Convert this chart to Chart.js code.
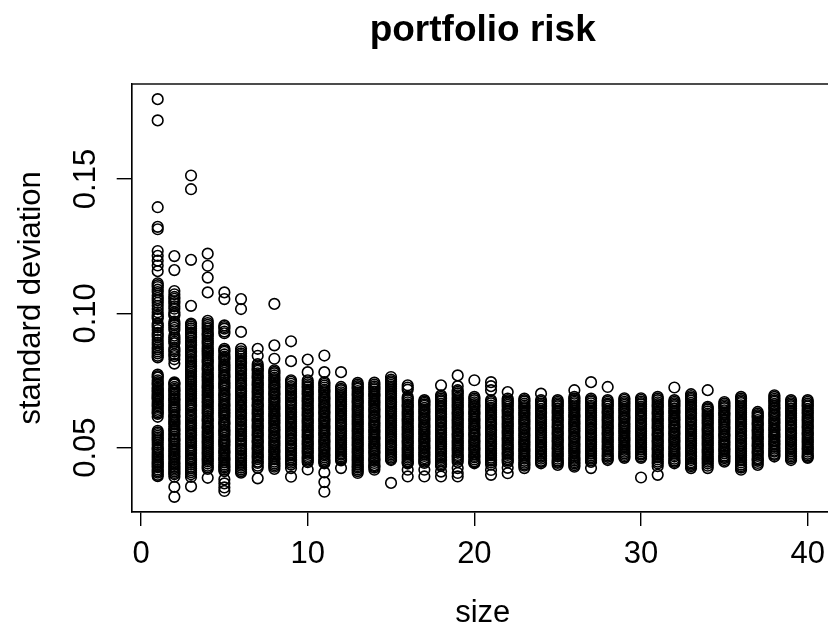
<!DOCTYPE html>
<html><head><meta charset="utf-8">
<script src="https://cdn.jsdelivr.net/npm/chart.js@4.4.1/dist/chart.umd.min.js"></script>
<style>html,body{margin:0;padding:0;background:#fff;overflow:hidden;width:828px;height:629px}canvas{display:block}</style>
</head><body>
<canvas id="c" width="860" height="629"></canvas>
<script>
// portfolio size (x) and standard deviations observed at each size (y)
const sizes = [1,2,3,4,5,6,7,8,9,10,11,12,13,14,15,16,17,18,19,20,21,22,23,24,25,26,27,28,29,30,31,32,33,34,35,36,37,38,39,40];
const sd01 = [0.1797,0.1718,0.1395,0.1322,0.1313,0.1232,0.1214,0.1196,0.1178,0.1157,0.1112,0.1098,0.1079,0.1066,0.1049,0.1028,0.1016,0.0994,0.0981,0.0962,0.0948,0.0927,0.0912,0.0901,0.0882,0.0866,0.0851,0.0836,0.0772,0.0761,0.0744,0.0733,0.0719,0.0709,0.0697,0.0688,0.0679,0.0664,0.0652,0.0637,0.0626,0.0615,0.0563,0.0551,0.0538,0.0527,0.0519,0.0502,0.0491,0.0476,0.0463,0.0449,0.0438,0.0427,0.0419,0.0407,0.0394,
  0.1105,0.1088,0.1057,0.1039,0.1004,0.0987,0.0955,0.0938,0.0919,0.0891,0.0873,0.0858,0.0842,0.0766,0.0751,0.0738,0.0724,0.0714,0.0703,0.0692,0.0684,0.0671,0.0658,0.0644,0.0631,0.0557,0.0544,0.0532,0.0511,0.0496,0.0483,0.0469,0.0456,0.0443,0.0432,0.0413,0.0399];
const sd02 = [0.1213,0.1161,0.1083,0.1071,0.1054,0.1038,0.1017,0.1004,0.0991,0.0969,0.0955,0.0938,0.0917,0.0903,0.0889,0.0871,0.0858,0.0841,0.0829,0.0813,0.0743,0.0735,0.0719,0.0711,0.0697,0.0684,0.0676,0.0661,0.0649,0.0638,0.0622,0.0613,0.0598,0.0587,0.0571,0.0562,0.0549,0.0534,0.0526,0.0511,0.0498,0.0486,0.0473,0.0462,0.0447,0.0436,0.0424,0.0412,0.0401,0.0392,0.0354,0.0317,
  0.1061,0.1045,0.1026,0.0997,0.0961,0.0946,0.0909,0.0895,0.0864,0.0848,0.0739,0.0726,0.0714,0.0703,0.0691,0.0679,0.0668,0.0655,0.0643,0.0631,0.0617,0.0604,0.0592,0.0579,0.0566,0.0553,0.0541,0.0529,0.0517,0.0504,0.0491,0.0479,0.0467,0.0455,0.0441,0.0429,0.0418,0.0406];
const sd03 = [0.1513,0.1462,0.1199,0.1028,0.0962,0.0951,0.0937,0.0922,0.0909,0.0891,0.0879,0.0864,0.0853,0.0838,0.0821,0.0807,0.0796,0.0783,0.0766,0.0752,0.0744,0.0729,0.0716,0.0701,0.0689,0.0677,0.0661,0.0652,0.0638,0.0622,0.0611,0.0596,0.0583,0.0571,0.0556,0.0544,0.0529,0.0517,0.0501,0.0489,0.0477,0.0461,0.0452,0.0437,0.0423,0.0409,0.0391,0.0356,
  0.0957,0.0944,0.0929,0.0914,0.0898,0.0884,0.0871,0.0858,0.0844,0.0829,0.0815,0.0801,0.0789,0.0774,0.0759,0.0748,0.0736,0.0722,0.0709,0.0695,0.0683,0.0669,0.0657,0.0644,0.0629,0.0616,0.0603,0.0589,0.0577,0.0563,0.0549,0.0536,0.0523,0.0508,0.0494,0.0483,0.0469,0.0457,0.0444,0.0429,0.0416,0.0401];
const sd04 = [0.1222,0.1177,0.1133,0.1078,0.0972,0.0957,0.0943,0.0926,0.0915,0.0898,0.0886,0.0869,0.0857,0.0844,0.0827,0.0816,0.0799,0.0788,0.0772,0.0761,0.0747,0.0731,0.0721,0.0706,0.0693,0.0679,0.0667,0.0652,0.0638,0.0626,0.0609,0.0598,0.0581,0.0571,0.0556,0.0543,0.0529,0.0517,0.0502,0.0488,0.0476,0.0461,0.0449,0.0433,0.0421,0.0388,
  0.0964,0.0949,0.0934,0.0921,0.0906,0.0892,0.0877,0.0863,0.0851,0.0836,0.0822,0.0807,0.0794,0.0779,0.0766,0.0754,0.0739,0.0726,0.0713,0.0699,0.0686,0.0672,0.0659,0.0645,0.0632,0.0617,0.0603,0.0589,0.0576,0.0562,0.0549,0.0536,0.0522,0.0509,0.0495,0.0481,0.0468,0.0455,0.0441,0.0427];
const sd05 = [0.1078,0.1053,0.0955,0.0943,0.0926,0.0868,0.0857,0.0839,0.0828,0.0811,0.0799,0.0787,0.0771,0.0761,0.0744,0.0732,0.0721,0.0703,0.0692,0.0679,0.0663,0.0652,0.0638,0.0626,0.0613,0.0596,0.0586,0.0569,0.0558,0.0546,0.0529,0.0518,0.0506,0.0489,0.0479,0.0463,0.0453,0.0437,0.0426,0.0413,0.0382,0.0367,0.0352,0.0339,
  0.0949,0.0932,0.0862,0.0847,0.0834,0.0819,0.0805,0.0793,0.0779,0.0766,0.0752,0.0738,0.0726,0.0712,0.0697,0.0685,0.0671,0.0658,0.0644,0.0631,0.0619,0.0604,0.0591,0.0577,0.0563,0.0551,0.0537,0.0524,0.0512,0.0497,0.0484,0.0471,0.0458,0.0445,0.0431,0.0419];
const sd06 = [0.1053,0.1016,0.0931,0.0868,0.0851,0.0839,0.0823,0.0812,0.0796,0.0786,0.0768,0.0757,0.0741,0.0731,0.0714,0.0703,0.0687,0.0676,0.0659,0.0649,0.0633,0.0622,0.0606,0.0596,0.0579,0.0569,0.0552,0.0542,0.0526,0.0514,0.0498,0.0488,0.0471,0.0461,0.0444,0.0433,0.0419,0.0407,
  0.0859,0.0845,0.0831,0.0817,0.0804,0.0791,0.0777,0.0763,0.0749,0.0736,0.0722,0.0709,0.0695,0.0681,0.0668,0.0654,0.0641,0.0627,0.0614,0.0601,0.0587,0.0574,0.0561,0.0547,0.0533,0.0521,0.0506,0.0493,0.0479,0.0466,0.0452,0.0439,0.0426,0.0413];
const sd07 = [0.0868,0.0842,0.0811,0.0796,0.0786,0.0769,0.0758,0.0742,0.0731,0.0716,0.0704,0.0689,0.0678,0.0661,0.0652,0.0636,0.0624,0.0608,0.0598,0.0582,0.0571,0.0556,0.0544,0.0528,0.0518,0.0502,0.0491,0.0476,0.0464,0.0448,0.0425,0.0386,
  0.0803,0.0791,0.0777,0.0763,0.0749,0.0736,0.0723,0.0709,0.0696,0.0683,0.0669,0.0657,0.0643,0.0629,0.0616,0.0603,0.0589,0.0577,0.0563,0.0549,0.0536,0.0523,0.0509,0.0497,0.0483,0.0469,0.0457,0.0443,0.0433];
const sd08 = [0.1035,0.0881,0.0831,0.0788,0.0777,0.0761,0.0749,0.0734,0.0723,0.0707,0.0697,0.0681,0.0669,0.0654,0.0643,0.0627,0.0616,0.0601,0.0589,0.0574,0.0563,0.0547,0.0536,0.0521,0.0509,0.0494,0.0483,0.0467,0.0456,0.0441,0.0429,0.0421,
  0.0782,0.0769,0.0755,0.0741,0.0728,0.0715,0.0701,0.0688,0.0675,0.0661,0.0648,0.0635,0.0621,0.0608,0.0595,0.0581,0.0568,0.0555,0.0541,0.0528,0.0515,0.0502,0.0488,0.0475,0.0461,0.0448,0.0435];
const sd09 = [0.0896,0.0822,0.0751,0.0738,0.0722,0.0711,0.0696,0.0686,0.0669,0.0658,0.0643,0.0631,0.0616,0.0606,0.0589,0.0578,0.0563,0.0551,0.0536,0.0526,0.0509,0.0498,0.0483,0.0471,0.0456,0.0444,0.0424,0.0392,
  0.0745,0.0729,0.0716,0.0703,0.0691,0.0677,0.0664,0.0651,0.0637,0.0624,0.0611,0.0597,0.0584,0.0571,0.0557,0.0544,0.0531,0.0517,0.0504,0.0491,0.0477,0.0464,0.0451,0.0437];
const sd10 = [0.0828,0.0781,0.0751,0.0736,0.0724,0.0709,0.0698,0.0682,0.0671,0.0656,0.0644,0.0629,0.0618,0.0602,0.0591,0.0576,0.0564,0.0549,0.0538,0.0522,0.0511,0.0496,0.0484,0.0469,0.0458,0.0446,0.0419,
  0.0743,0.0729,0.0716,0.0703,0.0689,0.0676,0.0663,0.0649,0.0636,0.0623,0.0609,0.0597,0.0583,0.0569,0.0557,0.0543,0.0529,0.0516,0.0503,0.0489,0.0477,0.0463,0.0451];
const sd11 = [0.0843,0.0781,0.0744,0.0731,0.0716,0.0705,0.0689,0.0678,0.0663,0.0651,0.0636,0.0625,0.0609,0.0598,0.0583,0.0571,0.0556,0.0545,0.0529,0.0518,0.0503,0.0491,0.0476,0.0464,0.0451,0.0442,0.0408,0.0372,0.0336,
  0.0738,0.0724,0.0711,0.0697,0.0684,0.0671,0.0657,0.0644,0.0631,0.0617,0.0604,0.0591,0.0577,0.0564,0.0551,0.0537,0.0524,0.0511,0.0497,0.0484,0.0471,0.0457,0.0447];
const sd12 = [0.0781,0.0726,0.0714,0.0699,0.0687,0.0672,0.0661,0.0645,0.0634,0.0619,0.0607,0.0592,0.0581,0.0565,0.0554,0.0539,0.0527,0.0512,0.0501,0.0485,0.0474,0.0461,0.0453,0.0424,
  0.0719,0.0706,0.0693,0.0679,0.0666,0.0653,0.0639,0.0626,0.0613,0.0599,0.0586,0.0573,0.0559,0.0546,0.0533,0.0519,0.0506,0.0493,0.0479,0.0467,0.0457];
const sd13 = [0.0741,0.0729,0.0719,0.0704,0.0692,0.0677,0.0666,0.0651,0.0639,0.0624,0.0612,0.0598,0.0586,0.0571,0.0559,0.0544,0.0532,0.0518,0.0506,0.0491,0.0479,0.0464,0.0452,0.0437,0.0426,0.0413,0.0406,
  0.0735,0.0723,0.0711,0.0698,0.0684,0.0671,0.0658,0.0645,0.0632,0.0618,0.0605,0.0592,0.0579,0.0565,0.0552,0.0538,0.0525,0.0512,0.0498,0.0485,0.0471,0.0458,0.0445,0.0431,0.0419];
const sd14 = [0.0742,0.0728,0.0717,0.0701,0.0691,0.0675,0.0663,0.0648,0.0637,0.0621,0.0611,0.0595,0.0583,0.0568,0.0557,0.0541,0.0531,0.0515,0.0503,0.0488,0.0477,0.0461,0.0451,0.0435,0.0426,0.0418,
  0.0735,0.0722,0.0709,0.0696,0.0683,0.0669,0.0656,0.0642,0.0629,0.0616,0.0603,0.0589,0.0576,0.0562,0.0549,0.0536,0.0523,0.0509,0.0496,0.0483,0.0469,0.0456,0.0443,0.0431];
const sd15 = [0.0763,0.0753,0.0741,0.0727,0.0715,0.0701,0.0689,0.0673,0.0662,0.0647,0.0635,0.0621,0.0609,0.0593,0.0582,0.0567,0.0555,0.0541,0.0529,0.0513,0.0502,0.0487,0.0475,0.0463,0.0454,0.0369,
  0.0747,0.0734,0.0721,0.0708,0.0695,0.0681,0.0668,0.0654,0.0641,0.0628,0.0615,0.0601,0.0588,0.0574,0.0561,0.0548,0.0535,0.0521,0.0508,0.0495,0.0481,0.0469,0.0458];
const sd16 = [0.0732,0.0716,0.0689,0.0677,0.0661,0.0651,0.0635,0.0623,0.0608,0.0597,0.0581,0.0569,0.0555,0.0543,0.0528,0.0517,0.0501,0.0489,0.0475,0.0463,0.0449,0.0441,0.0418,0.0393,
  0.0724,0.0683,0.0669,0.0656,0.0643,0.0629,0.0616,0.0603,0.0589,0.0575,0.0562,0.0549,0.0536,0.0522,0.0509,0.0495,0.0482,0.0469,0.0456,0.0445];
const sd17 = [0.0677,0.0667,0.0656,0.0641,0.0629,0.0614,0.0603,0.0587,0.0576,0.0561,0.0549,0.0534,0.0523,0.0507,0.0496,0.0481,0.0469,0.0454,0.0443,0.0418,0.0393,
  0.0672,0.0661,0.0648,0.0635,0.0621,0.0608,0.0595,0.0581,0.0568,0.0555,0.0541,0.0528,0.0515,0.0501,0.0488,0.0475,0.0461,0.0448];
const sd18 = [0.0732,0.0695,0.0683,0.0672,0.0656,0.0645,0.0629,0.0618,0.0603,0.0592,0.0576,0.0565,0.0549,0.0538,0.0523,0.0512,0.0496,0.0485,0.0469,0.0458,0.0443,0.0432,0.0411,0.0393,
  0.0689,0.0677,0.0664,0.0651,0.0637,0.0623,0.0611,0.0597,0.0584,0.0571,0.0557,0.0544,0.0531,0.0517,0.0504,0.0491,0.0477,0.0464,0.0451,0.0437];
const sd19 = [0.0769,0.0729,0.0714,0.0702,0.0687,0.0675,0.0661,0.0649,0.0633,0.0622,0.0607,0.0595,0.0581,0.0569,0.0553,0.0542,0.0527,0.0515,0.0501,0.0489,0.0473,0.0462,0.0447,0.0424,0.0406,0.0393,
  0.0708,0.0695,0.0681,0.0668,0.0655,0.0641,0.0628,0.0614,0.0601,0.0588,0.0575,0.0561,0.0548,0.0535,0.0521,0.0508,0.0495,0.0481,0.0468,0.0455];
const sd20 = [0.0751,0.0689,0.0677,0.0662,0.0651,0.0635,0.0624,0.0608,0.0597,0.0582,0.0571,0.0555,0.0544,0.0528,0.0517,0.0502,0.0491,0.0475,0.0464,0.0449,0.0442,
  0.0683,0.0669,0.0656,0.0643,0.0629,0.0616,0.0603,0.0589,0.0576,0.0563,0.0549,0.0536,0.0523,0.0509,0.0496,0.0483,0.0469,0.0456,0.0445];
const sd21 = [0.0744,0.0729,0.0714,0.0677,0.0665,0.0649,0.0638,0.0623,0.0612,0.0596,0.0585,0.0569,0.0558,0.0543,0.0532,0.0516,0.0505,0.0489,0.0478,0.0463,0.0452,0.0437,0.0417,0.0399,
  0.0671,0.0657,0.0644,0.0631,0.0617,0.0604,0.0591,0.0577,0.0564,0.0551,0.0537,0.0524,0.0511,0.0497,0.0484,0.0471,0.0457,0.0445];
const sd22 = [0.0707,0.0683,0.0671,0.0659,0.0644,0.0633,0.0617,0.0606,0.0591,0.0579,0.0564,0.0553,0.0537,0.0526,0.0511,0.0499,0.0484,0.0473,0.0457,0.0446,0.0425,0.0405,
  0.0677,0.0665,0.0652,0.0638,0.0625,0.0612,0.0598,0.0585,0.0572,0.0558,0.0545,0.0532,0.0518,0.0505,0.0492,0.0478,0.0465,0.0452];
const sd23 = [0.0683,0.0672,0.0657,0.0646,0.0631,0.0619,0.0604,0.0592,0.0577,0.0566,0.0551,0.0539,0.0524,0.0512,0.0497,0.0486,0.0471,0.0459,0.0444,0.0433,0.0424,
  0.0677,0.0664,0.0651,0.0638,0.0625,0.0611,0.0598,0.0585,0.0571,0.0558,0.0545,0.0531,0.0518,0.0505,0.0491,0.0478,0.0465,0.0451,0.0438];
const sd24 = [0.0701,0.0677,0.0664,0.0653,0.0637,0.0626,0.0611,0.0599,0.0584,0.0573,0.0557,0.0546,0.0531,0.0519,0.0504,0.0493,0.0477,0.0466,0.0451,0.0442,
  0.0671,0.0658,0.0645,0.0631,0.0618,0.0605,0.0591,0.0578,0.0565,0.0551,0.0538,0.0525,0.0511,0.0498,0.0485,0.0471,0.0459,0.0447];
const sd25 = [0.0677,0.0665,0.0654,0.0638,0.0627,0.0612,0.0601,0.0585,0.0574,0.0558,0.0547,0.0532,0.0521,0.0505,0.0494,0.0479,0.0467,0.0452,0.0443,0.0436,
  0.0671,0.0659,0.0646,0.0633,0.0619,0.0606,0.0593,0.0579,0.0566,0.0553,0.0539,0.0526,0.0513,0.0499,0.0486,0.0473,0.0459,0.0447];
const sd26 = [0.0714,0.0689,0.0677,0.0665,0.0651,0.0639,0.0623,0.0612,0.0597,0.0585,0.0571,0.0559,0.0543,0.0532,0.0517,0.0505,0.0491,0.0479,0.0463,0.0452,0.0441,0.0429,
  0.0683,0.0671,0.0658,0.0645,0.0631,0.0618,0.0604,0.0591,0.0578,0.0565,0.0551,0.0538,0.0525,0.0511,0.0498,0.0485,0.0471,0.0458,0.0446,0.0435];
const sd27 = [0.0744,0.0683,0.0672,0.0657,0.0646,0.0631,0.0619,0.0604,0.0592,0.0577,0.0566,0.0551,0.0539,0.0524,0.0512,0.0497,0.0486,0.0471,0.0459,0.0447,0.0424,
  0.0677,0.0665,0.0651,0.0638,0.0625,0.0612,0.0598,0.0585,0.0571,0.0558,0.0545,0.0531,0.0518,0.0505,0.0491,0.0478,0.0465,0.0453];
const sd28 = [0.0726,0.0677,0.0664,0.0653,0.0637,0.0626,0.0611,0.0599,0.0584,0.0573,0.0557,0.0546,0.0531,0.0519,0.0504,0.0493,0.0477,0.0466,0.0454,
  0.0671,0.0659,0.0645,0.0632,0.0618,0.0605,0.0592,0.0578,0.0565,0.0552,0.0538,0.0525,0.0511,0.0498,0.0485,0.0471,0.0459];
const sd29 = [0.0684,0.0671,0.0659,0.0645,0.0633,0.0618,0.0607,0.0591,0.0579,0.0565,0.0553,0.0538,0.0527,0.0511,0.0499,0.0485,0.0473,0.0462,
  0.0678,0.0665,0.0652,0.0639,0.0625,0.0612,0.0599,0.0585,0.0572,0.0559,0.0545,0.0532,0.0519,0.0505,0.0492,0.0479,0.0467];
const sd30 = [0.0684,0.0672,0.0661,0.0646,0.0634,0.0619,0.0608,0.0592,0.0581,0.0566,0.0554,0.0539,0.0528,0.0512,0.0501,0.0486,0.0474,0.0462,0.0389,
  0.0678,0.0666,0.0653,0.0639,0.0626,0.0613,0.0599,0.0586,0.0573,0.0559,0.0546,0.0533,0.0519,0.0506,0.0493,0.0479,0.0467];
const sd31 = [0.0689,0.0677,0.0662,0.0651,0.0635,0.0624,0.0608,0.0597,0.0582,0.0571,0.0555,0.0544,0.0528,0.0517,0.0502,0.0491,0.0475,0.0464,0.0448,0.0431,0.0399,
  0.0683,0.0669,0.0656,0.0643,0.0629,0.0616,0.0603,0.0589,0.0576,0.0563,0.0549,0.0536,0.0523,0.0509,0.0496,0.0483,0.0469,0.0456,0.0441];
const sd32 = [0.0724,0.0677,0.0665,0.0654,0.0638,0.0627,0.0612,0.0601,0.0585,0.0574,0.0558,0.0547,0.0532,0.0521,0.0505,0.0494,0.0479,0.0467,0.0452,0.0442,
  0.0671,0.0659,0.0646,0.0633,0.0619,0.0606,0.0593,0.0579,0.0566,0.0553,0.0539,0.0526,0.0513,0.0499,0.0486,0.0473,0.0459,0.0447];
const sd33 = [0.0699,0.0686,0.0675,0.0659,0.0648,0.0633,0.0622,0.0606,0.0595,0.0579,0.0568,0.0553,0.0541,0.0526,0.0515,0.0499,0.0488,0.0473,0.0461,0.0446,0.0436,0.0424,
  0.0692,0.0681,0.0667,0.0654,0.0641,0.0627,0.0614,0.0601,0.0587,0.0574,0.0561,0.0547,0.0534,0.0521,0.0507,0.0494,0.0481,0.0467,0.0454,0.0441,0.0431];
const sd34 = [0.0714,0.0652,0.0642,0.0627,0.0615,0.0601,0.0589,0.0573,0.0562,0.0547,0.0535,0.0521,0.0509,0.0493,0.0482,0.0467,0.0455,0.0441,0.0424,
  0.0647,0.0635,0.0621,0.0608,0.0595,0.0581,0.0568,0.0555,0.0541,0.0528,0.0515,0.0501,0.0488,0.0475,0.0461,0.0448,0.0433];
const sd35 = [0.0670,0.0658,0.0647,0.0631,0.0621,0.0605,0.0593,0.0578,0.0567,0.0551,0.0541,0.0525,0.0513,0.0498,0.0487,0.0471,0.0461,0.0448,
  0.0664,0.0652,0.0639,0.0626,0.0613,0.0599,0.0586,0.0573,0.0559,0.0546,0.0533,0.0519,0.0506,0.0493,0.0479,0.0466,0.0454];
const sd36 = [0.0689,0.0677,0.0666,0.0651,0.0639,0.0624,0.0613,0.0597,0.0586,0.0571,0.0559,0.0544,0.0533,0.0517,0.0506,0.0491,0.0479,0.0464,0.0453,0.0437,0.0426,0.0418,
  0.0683,0.0671,0.0658,0.0645,0.0631,0.0618,0.0605,0.0591,0.0578,0.0565,0.0551,0.0538,0.0525,0.0511,0.0498,0.0485,0.0471,0.0458,0.0445,0.0431];
const sd37 = [0.0633,0.0621,0.0611,0.0595,0.0584,0.0568,0.0557,0.0541,0.0531,0.0515,0.0504,0.0488,0.0477,0.0461,0.0451,0.0436,
  0.0627,0.0616,0.0603,0.0589,0.0576,0.0563,0.0549,0.0536,0.0523,0.0509,0.0496,0.0483,0.0469,0.0456,0.0443];
const sd38 = [0.0695,0.0682,0.0671,0.0656,0.0645,0.0629,0.0618,0.0603,0.0591,0.0576,0.0565,0.0549,0.0538,0.0523,0.0511,0.0496,0.0485,0.0473,0.0467,
  0.0689,0.0676,0.0663,0.0649,0.0636,0.0623,0.0609,0.0596,0.0583,0.0569,0.0556,0.0543,0.0529,0.0516,0.0503,0.0489,0.0477];
const sd39 = [0.0677,0.0665,0.0654,0.0638,0.0627,0.0612,0.0601,0.0585,0.0574,0.0558,0.0547,0.0532,0.0521,0.0505,0.0494,0.0479,0.0467,0.0454,
  0.0671,0.0659,0.0646,0.0633,0.0619,0.0606,0.0593,0.0579,0.0566,0.0553,0.0539,0.0526,0.0513,0.0499,0.0486,0.0473,0.0461];
const sd40 = [0.0677,0.0664,0.0653,0.0638,0.0626,0.0611,0.0599,0.0584,0.0573,0.0557,0.0546,0.0531,0.0519,0.0504,0.0493,0.0477,0.0466,0.0462,
  0.0671,0.0658,0.0645,0.0632,0.0618,0.0605,0.0592,0.0578,0.0565,0.0552,0.0538,0.0525,0.0512,0.0498,0.0485,0.0471];
const sdBySize = [sd01,sd02,sd03,sd04,sd05,sd06,sd07,sd08,sd09,sd10,sd11,sd12,sd13,sd14,sd15,sd16,sd17,sd18,sd19,sd20,sd21,sd22,sd23,sd24,sd25,sd26,sd27,sd28,sd29,sd30,sd31,sd32,sd33,sd34,sd35,sd36,sd37,sd38,sd39,sd40];

const xTicks = [0, 10, 20, 30, 40];
const xTickLabels = ['0', '10', '20', '30', '40'];
const yTicks = [0.05, 0.10, 0.15];
const yTickLabels = ['0.05', '0.10', '0.15'];
const chartTitle = 'portfolio risk';
const xTitle = 'size';
const yTitle = 'standard deviation';

const points = [];
sizes.forEach((s, i) => sdBySize[i].forEach(v => points.push({x: s, y: v})));

const FONT = "'Liberation Sans', Arial, Helvetica, sans-serif";
const boxPlugin = {
  id: 'box',
  afterDatasetsDraw(chart) {
    const {ctx, chartArea: a} = chart;
    ctx.save();
    ctx.strokeStyle = '#000';
    ctx.lineWidth = 1.4;
    ctx.strokeRect(a.left, a.top, a.right - a.left, a.bottom - a.top);
    ctx.restore();
  }
};

new Chart(document.getElementById('c'), {
  type: 'scatter',
  data: {datasets: [{
    data: points,
    showLine: false,
    pointStyle: 'circle',
    pointRadius: 5.3,
    pointHoverRadius: 5.3,
    pointBorderColor: '#000',
    pointBackgroundColor: 'rgba(0,0,0,0)',
    pointBorderWidth: 1.6,
    pointHoverBorderWidth: 1.6,
    borderColor: '#000',
    backgroundColor: 'rgba(0,0,0,0)'
  }]},
  options: {
    responsive: false,
    animation: false,
    events: [],
    layout: {padding: {top: 0, left: 0, right: 26.3, bottom: 0}},
    plugins: {
      legend: {display: false},
      tooltip: {enabled: false},
      title: {
        display: true, text: chartTitle, fullSize: false, color: '#000',
        font: {family: FONT, size: 37, weight: 'bold', lineHeight: 1},
        padding: {top: 12.5, bottom: 34.5}
      }
    },
    scales: {
      x: {
        type: 'linear', min: -0.56, max: 41.56,
        afterBuildTicks: s => { s.ticks = xTicks.map(v => ({value: v})); },
        afterFit: s => { s.height = 117.3; },
        grid: {drawOnChartArea: false, drawTicks: true, tickLength: 14.3, color: '#000', lineWidth: 1.4},
        border: {display: true, color: '#000', width: 1.4},
        ticks: {color: '#000', font: {family: FONT, size: 31}, padding: 10, maxRotation: 0, minRotation: 0, autoSkip: false,
                callback: (v, i) => xTickLabels[i]},
        title: {display: true, text: xTitle, color: '#000', font: {family: FONT, size: 31, lineHeight: 1}, padding: {top: 0, bottom: 0}}
      },
      y: {
        type: 'linear', min: 0.02618, max: 0.18535,
        afterBuildTicks: s => { s.ticks = yTicks.map(v => ({value: v})); },
        afterFit: s => { s.width = 131.7; },
        grid: {drawOnChartArea: false, drawTicks: true, tickLength: 15, color: '#000', lineWidth: 1.4},
        border: {display: true, color: '#000', width: 1.4},
        ticks: {color: '#000', font: {family: FONT, size: 31}, padding: 0, minRotation: 90, maxRotation: 90, crossAlign: 'center', autoSkip: false,
                callback: (v, i) => yTickLabels[i]},
        title: {display: true, text: yTitle, color: '#000', font: {family: FONT, size: 31, lineHeight: 1}, padding: {top: 16, bottom: 0}}
      }
    }
  },
  plugins: [boxPlugin]
});
</script>
</body></html>
